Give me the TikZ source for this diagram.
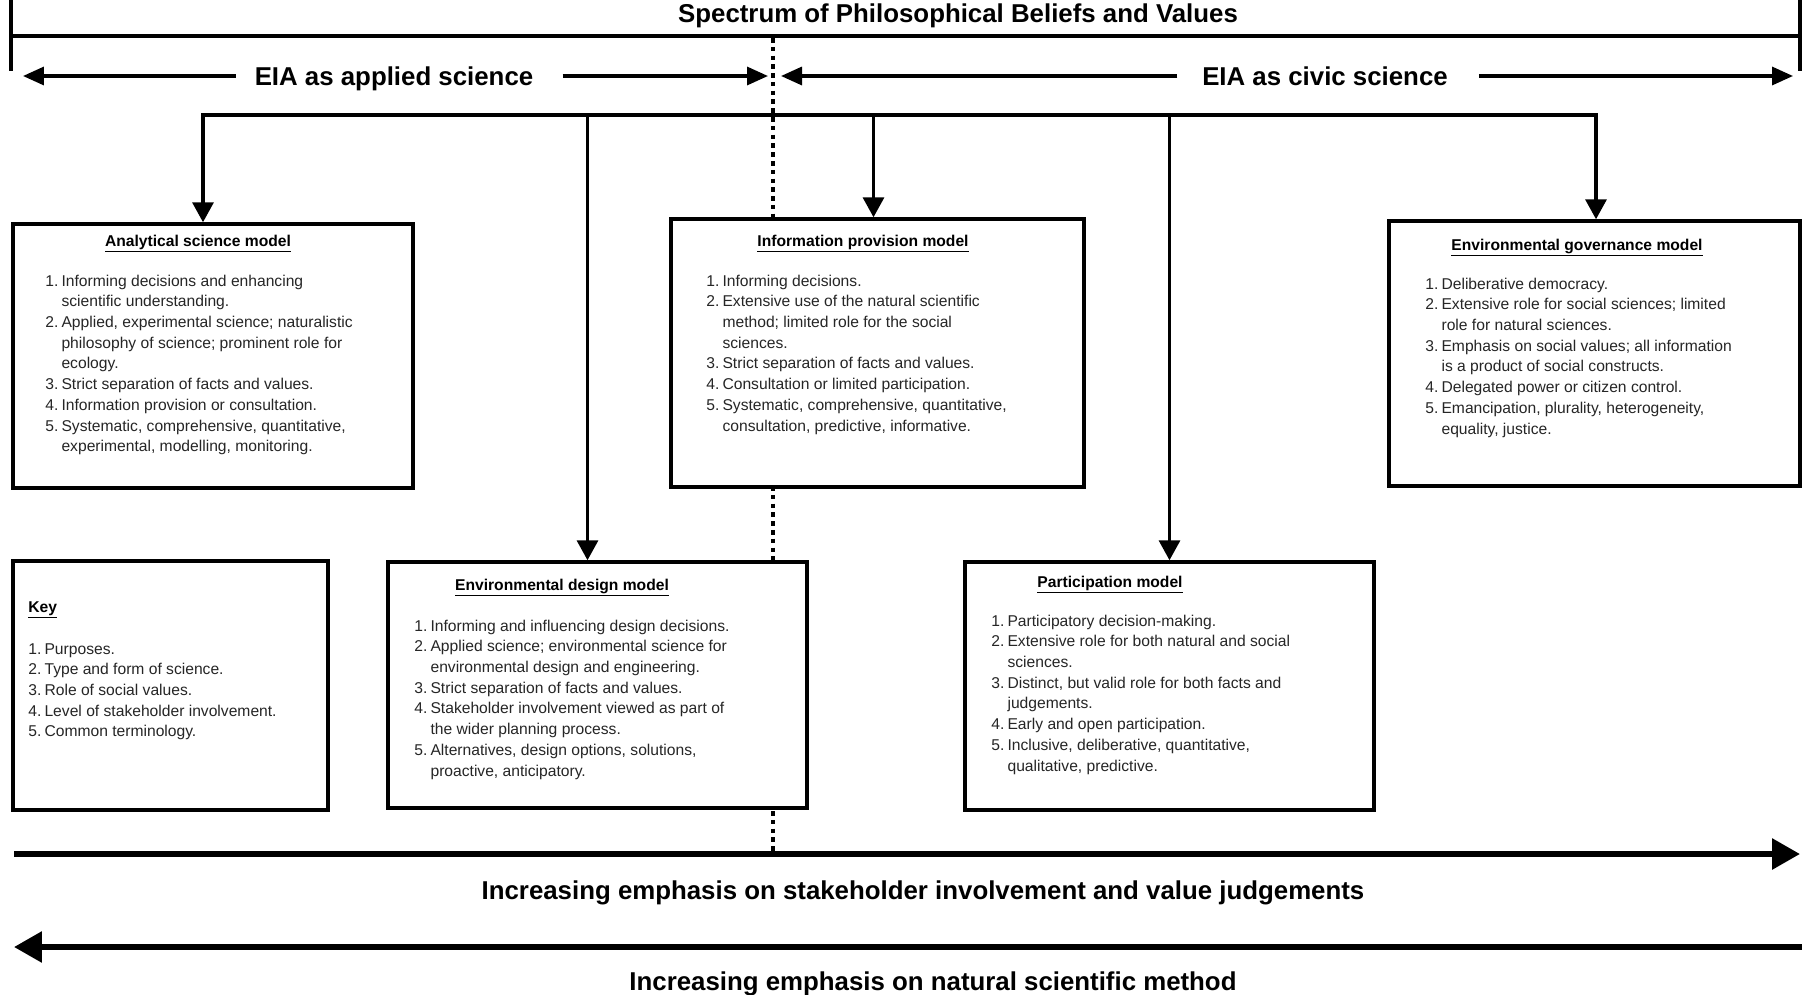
\documentclass[tikz,border=0pt]{standalone}
\usepackage{fontspec}
\setmainfont{Liberation Sans}
\usetikzlibrary{arrows.meta,calc}

\newcommand{\modellist}[1]{\begin{tabular}[t]{@{}l@{\hspace{1.8pt}}l@{}}#1\end{tabular}}

\tikzset{
  spanline/.style={line width=2pt},
  rowarrow/.style={line width=1.9pt, -{Triangle[length=0.42cm, width=0.36cm]}},
  fanline/.style={line width=1.9pt, line cap=rect},
  fanarrow/.style={line width=1.9pt, -{Triangle[length=0.4cm, width=0.42cm]}},
  bigarrow/.style={line width=3.4pt, -{Triangle[length=0.56cm, width=0.6cm]}},
  divider/.style={line width=2.2pt, dash pattern=on 2.6pt off 2.4pt},
  modelbox/.style={draw, line width=2pt, fill=white, inner sep=0pt},
  boxtitle/.style={anchor=base, inner sep=0pt, font=\fontsize{8.9}{11.8}\selectfont\bfseries},
  boxlist/.style={anchor=base west, inner sep=0pt, text=black!85, font=\fontsize{8.9}{11.8}\selectfont},
  bigtext/.style={inner sep=0pt, text height=10.6pt, text depth=0pt, font=\fontsize{14.7}{17}\selectfont\bfseries}
}

\begin{document}
\begin{tikzpicture}[x=0.02cm,y=-0.02cm]
  \useasboundingbox (0,0) rectangle (1802,994);

  % spectrum bar on top
  \coordinate (specL) at (11,36);
  \coordinate (specR) at (1800,36);
  \draw[spanline] (specL) -- (specR);
  \draw[spanline] ($(specL)+(0,-36)$) -- ($(specL)+(0,35)$);
  \draw[spanline] ($(specR)+(0,-36)$) -- ($(specR)+(0,35)$);
  \node[bigtext] (spectrum) at (958,13) {Spectrum of Philosophical Beliefs and Values};

  % dotted divider (boxes are drawn over it)
  \coordinate (divtop) at (773,38);
  \coordinate (divbot) at (773,852);
  \draw[divider] (divtop) -- (divbot);

  % applied / civic science
  \node[bigtext, inner xsep=10.5pt] (applied) at (394,76) {EIA as applied science};
  \coordinate (appliedL) at (23,76);
  \coordinate (appliedR) at (768,76);
  \draw[rowarrow] (applied) -- (appliedL);
  \draw[rowarrow] ([xshift=6pt]applied.east) -- (appliedR);
  \node[bigtext, inner xsep=14pt] (civic) at (1325,76) {EIA as civic science};
  \coordinate (civicL) at (781,76);
  \coordinate (civicR) at (1793,76);
  \draw[rowarrow] (civic) -- (civicL);
  \draw[rowarrow] ([xshift=3.5pt]civic.east) -- (civicR);

  % the five models and the key
  \node[modelbox, minimum width=8cm, minimum height=5.28cm] (ana) at (213,356) {};
  \node[modelbox, minimum width=8.26cm, minimum height=5.36cm] (info) at (877.5,353) {};
  \node[modelbox, minimum width=8.22cm, minimum height=5.3cm] (gov) at (1594.5,353.5) {};
  \node[modelbox, minimum width=6.3cm, minimum height=4.98cm] (key) at (170.5,685.5) {};
  \node[modelbox, minimum width=8.38cm, minimum height=4.92cm] (env) at (597.5,685) {};
  \node[modelbox, minimum width=8.18cm, minimum height=4.96cm] (part) at (1169.5,686) {};

  % fan-out from the spectrum
  \coordinate (fan) at (900,115);
  \coordinate (ana-in) at ($(ana.north)+(-10,0)$);
  \coordinate (env-in) at ($(env.north)+(-10,0)$);
  \coordinate (info-in) at ($(info.north)+(-4,0)$);
  \coordinate (part-in) at (part.north);
  \coordinate (gov-in) at ($(gov.north)+(1.5,0)$);
  \draw[fanline] (ana-in |- fan) -- (gov-in |- fan);
  \draw[fanarrow] (ana-in |- fan) -- (ana-in);
  \draw[fanarrow] (env-in |- fan) -- (env-in);
  \draw[fanarrow] (info-in |- fan) -- (info-in);
  \draw[fanarrow] (part-in |- fan) -- (part-in);
  \draw[fanarrow] (gov-in |- fan) -- (gov-in);

  % box texts
  \node[boxtitle] (ana-title) at (198,246) {\underline{Analytical science model}};
  \node[boxlist] (ana-list) at (45,286) {\modellist{
    1. & Informing decisions and enhancing\\
       & scientific understanding.\\
    2. & Applied, experimental science; naturalistic\\
       & philosophy of science; prominent role for\\
       & ecology.\\
    3. & Strict separation of facts and values.\\
    4. & Information provision or consultation.\\
    5. & Systematic, comprehensive, quantitative,\\
       & experimental, modelling, monitoring.}};

  \node[boxtitle] (info-title) at (863,246) {\underline{Information provision model}};
  \node[boxlist] (info-list) at (706,286) {\modellist{
    1. & Informing decisions.\\
    2. & Extensive use of the natural scientific\\
       & method; limited role for the social\\
       & sciences.\\
    3. & Strict separation of facts and values.\\
    4. & Consultation or limited participation.\\
    5. & Systematic, comprehensive, quantitative,\\
       & consultation, predictive, informative.}};

  \node[boxtitle] (gov-title) at (1577,250) {\underline{Environmental governance model}};
  \node[boxlist] (gov-list) at (1425,289) {\modellist{
    1. & Deliberative democracy.\\
    2. & Extensive role for social sciences; limited\\
       & role for natural sciences.\\
    3. & Emphasis on social values; all information\\
       & is a product of social constructs.\\
    4. & Delegated power or citizen control.\\
    5. & Emancipation, plurality, heterogeneity,\\
       & equality, justice.}};

  \node[boxtitle, anchor=base west] (key-title) at (28,612) {\underline{Key}};
  \node[boxlist] (key-list) at (28,654) {\modellist{
    1. & Purposes.\\
    2. & Type and form of science.\\
    3. & Role of social values.\\
    4. & Level of stakeholder involvement.\\
    5. & Common terminology.}};

  \node[boxtitle] (env-title) at (562,590) {\underline{Environmental design model}};
  \node[boxlist] (env-list) at (414,631) {\modellist{
    1. & Informing and influencing design decisions.\\
    2. & Applied science; environmental science for\\
       & environmental design and engineering.\\
    3. & Strict separation of facts and values.\\
    4. & Stakeholder involvement viewed as part of\\
       & the wider planning process.\\
    5. & Alternatives, design options, solutions,\\
       & proactive, anticipatory.}};

  \node[boxtitle] (part-title) at (1110,587) {\underline{Participation model}};
  \node[boxlist] (part-list) at (991,626) {\modellist{
    1. & Participatory decision-making.\\
    2. & Extensive role for both natural and social\\
       & sciences.\\
    3. & Distinct, but valid role for both facts and\\
       & judgements.\\
    4. & Early and open participation.\\
    5. & Inclusive, deliberative, quantitative,\\
       & qualitative, predictive.}};

  % bottom scales
  \coordinate (stakeL) at (14,854);
  \coordinate (stakeR) at (1800,854);
  \draw[bigarrow] (stakeL) -- (stakeR);
  \node[bigtext] (stake) at (923,890) {Increasing emphasis on stakeholder involvement and value judgements};
  \coordinate (sciR) at (1802,947);
  \coordinate (sciL) at (14,947);
  \draw[bigarrow] (sciR) -- (sciL);
  \node[bigtext] (sci) at (933,981) {Increasing emphasis on natural scientific method};
\end{tikzpicture}
\end{document}
